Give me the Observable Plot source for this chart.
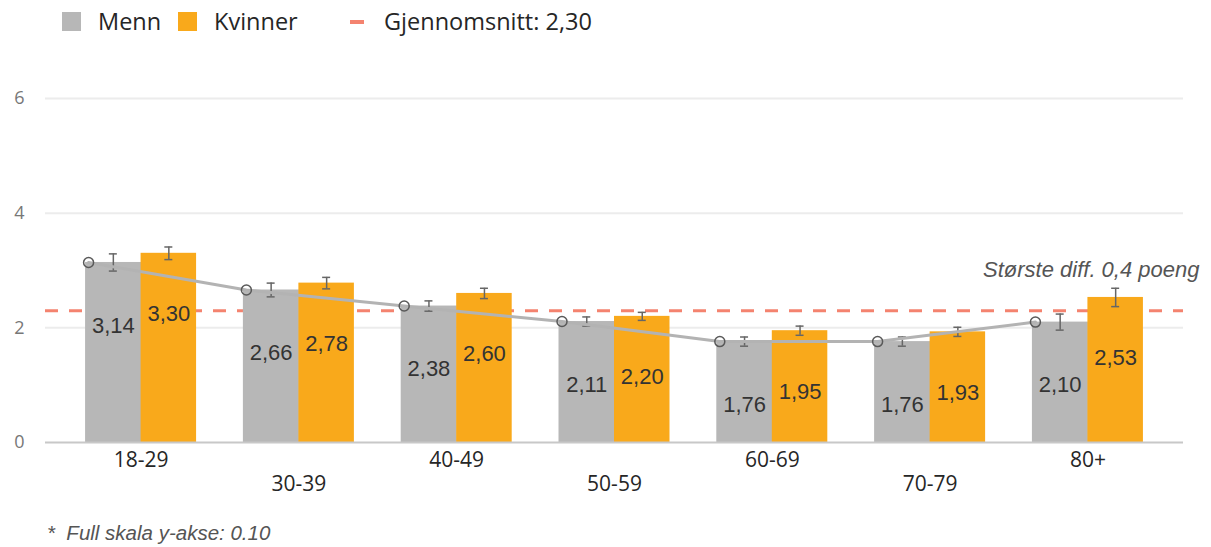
<!DOCTYPE html>
<html><head><meta charset="utf-8">
<script src="https://cdn.jsdelivr.net/npm/d3@7"></script>
<script src="https://cdn.jsdelivr.net/npm/@observablehq/plot@0.6"></script>
<style>
body{margin:0;background:#fff;width:1211px;height:547px;overflow:hidden;position:relative;}
#legend{position:relative;height:45px;font-family:"Open Sans",sans-serif;font-size:23.5px;color:#262626;}
#legend .sw{position:absolute;top:12px;width:19px;height:19px;}
#legend .tx{position:absolute;top:0;line-height:43px;white-space:nowrap;}
#legend .dash{position:absolute;top:20px;width:14px;height:4px;background:#f4836f;}
#chart{position:absolute;top:45px;left:0;}
#foot{position:absolute;left:47px;top:521px;line-height:24px;font-family:"Liberation Sans",Arial,sans-serif;font-size:20.5px;color:#555;font-style:italic;white-space:pre;}
</style></head><body>
<div id="legend">
  <div class="sw" style="left:62px;background:#b7b7b7"></div><div class="tx" style="left:98px">Menn</div>
  <div class="sw" style="left:178px;background:#f9a91b"></div><div class="tx" style="left:214px">Kvinner</div>
  <div class="dash" style="left:350px"></div><div class="tx" style="left:384px">Gjennomsnitt: 2,30</div>
</div>
<div id="chart"></div>
<div id="foot">*  Full skala y-akse: 0.10</div>
<script>
const ages = ["18-29","30-39","40-49","50-59","60-69","70-79","80+"];
const menn = [3.14,2.66,2.38,2.11,1.76,1.76,2.10];
const kvinner = [3.30,2.78,2.60,2.20,1.95,1.93,2.53];
const mennErr = [0.15,0.12,0.09,0.08,0.08,0.08,0.14];
const kvinnerErr = [0.11,0.10,0.09,0.07,0.08,0.08,0.16];
const average = 2.30;
const yTicks = [0,2,4,6];
const annotation = "Største diff. 0,4 poeng";

const data = ages.map((a,i)=>({age:a, menn:menn[i], kvinner:kvinner[i], me:mennErr[i], ke:kvinnerErr[i]}));
const fmt = v => v.toFixed(2).replace(".", ",");

const W = 1211, H = 470, mL = 45, mR = 28, mT = 53, mB = 73;
const pI = 0.2966, pO = 0.254;
const step = (W - mL - mR) / (ages.length - pI + 2*pO);
const bw = step * (1 - pI);
const cap = 4;

const chart = Plot.plot({
  width: W, height: H,
  marginLeft: mL, marginRight: mR, marginTop: mT, marginBottom: mB,
  style: {fontFamily: "Open Sans", background: "white", overflow: "visible"},
  x: {domain: ages, paddingInner: pI, paddingOuter: pO, round: false, axis: null},
  y: {domain: [0, 6], axis: null},
  marks: [
    Plot.ruleY(yTicks.filter(d=>d>0), {stroke: "#ececec", strokeWidth: 2}),
    Plot.ruleY([average], {stroke: "#f4836f", strokeWidth: 3, strokeDasharray: "13,11"}),
    Plot.barY(data, {x: "age", y: "menn", fill: "#b7b7b7", insetLeft: 0, insetRight: bw/2 - 0.5}),
    Plot.barY(data, {x: "age", y: "kvinner", fill: "#f9a91b", insetLeft: bw/2, insetRight: 0}),
    Plot.ruleY([0], {stroke: "#c8c8c8", strokeWidth: 2}),
    Plot.ruleX(data, {x: "age", y1: d=>d.menn-d.me, y2: d=>d.menn+d.me, dx: -bw/4, stroke: "#666", strokeWidth: 1.5}),
    Plot.ruleX(data, {x: "age", y1: d=>d.kvinner-d.ke, y2: d=>d.kvinner+d.ke, dx: bw/4, stroke: "#666", strokeWidth: 1.5}),
    Plot.tickY(data, {x: "age", y: d=>d.menn+d.me, insetLeft: bw/4-cap, insetRight: 3*bw/4-cap, stroke: "#666", strokeWidth: 1.5}),
    Plot.tickY(data, {x: "age", y: d=>d.menn-d.me, insetLeft: bw/4-cap, insetRight: 3*bw/4-cap, stroke: "#666", strokeWidth: 1.5}),
    Plot.tickY(data, {x: "age", y: d=>d.kvinner+d.ke, insetLeft: 3*bw/4-cap, insetRight: bw/4-cap, stroke: "#666", strokeWidth: 1.5}),
    Plot.tickY(data, {x: "age", y: d=>d.kvinner-d.ke, insetLeft: 3*bw/4-cap, insetRight: bw/4-cap, stroke: "#666", strokeWidth: 1.5}),
    Plot.line(data, {x: "age", y: "menn", dx: -bw/2 + 3, stroke: "#b3b3b3", strokeWidth: 3}),
    Plot.dot(data, {x: "age", y: "menn", dx: -bw/2 + 3, r: 5, stroke: "#595959", strokeWidth: 1.5, fill: "none"}),
    Plot.text(data, {x: "age", y: "menn", text: d=>fmt(d.menn), dx: -bw/4, dy: 63, fontSize: 22, fill: "#333", fontFamily: "Liberation Sans"}),
    Plot.text(data, {x: "age", y: "kvinner", text: d=>fmt(d.kvinner), dx: bw/4, dy: 61, fontSize: 22, fill: "#333", fontFamily: "Liberation Sans"}),
    Plot.text(yTicks, {y: d=>d, text: d=>String(d), frameAnchor: "left", textAnchor: "end", dx: -21, fontSize: 18, fill: "#777"}),
    Plot.text(ages.filter((d,i)=>i%2===0), {x: d=>d, text: d=>d, frameAnchor: "bottom", dy: 24, fontSize: 21, fill: "#262626"}),
    Plot.text(ages.filter((d,i)=>i%2===1), {x: d=>d, text: d=>d, frameAnchor: "bottom", dy: 48, fontSize: 21, fill: "#262626"}),
    Plot.text([annotation], {y: average, text: d=>d, frameAnchor: "right", textAnchor: "end", dx: 16, dy: -41, fontSize: 22, fontStyle: "italic", fill: "#555", fontFamily: "Liberation Sans"})
  ]
});
document.getElementById("chart").appendChild(chart);
</script>
</body></html>
